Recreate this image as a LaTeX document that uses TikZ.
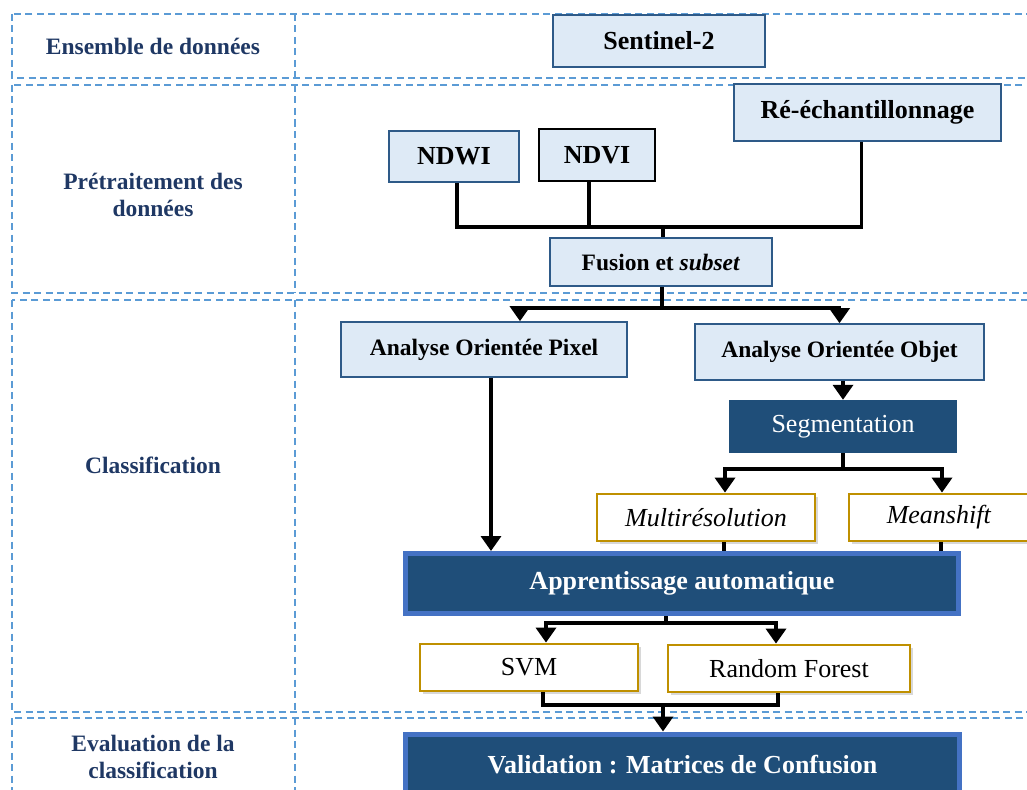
\documentclass[tikz,border=0pt]{standalone}
\usepackage{fontspec}
\setmainfont{Liberation Serif}
\usetikzlibrary{arrows.meta,shadows}
\definecolor{labelblue}{HTML}{1F3864}
\definecolor{boxfill}{HTML}{DEEAF6}
\definecolor{boxline}{HTML}{2E5A88}
\definecolor{darkfill}{HTML}{1F4E79}
\definecolor{frameblue}{HTML}{4472C4}
\definecolor{goldline}{HTML}{BF9000}
\definecolor{dashblue}{HTML}{5B9BD5}

\begin{document}
\begin{tikzpicture}[x=1pt,y=-1pt]
\tikzstyle{lane} = [draw=dashblue, line width=1.6pt, dash pattern=on 7pt off 4.5pt]
\tikzstyle{stage} = [text=labelblue, align=center, font=\fontsize{23.5}{27}\selectfont\bfseries]
\tikzstyle{box} = [rectangle, draw=boxline, line width=1.6pt, fill=boxfill, text centered, inner sep=0pt, font=\fontsize{26}{30}\selectfont\bfseries]
\tikzstyle{smallbox} = [box, font=\fontsize{23.5}{28}\selectfont\bfseries]
\tikzstyle{darkbox} = [rectangle, fill=darkfill, text=white, text centered, inner sep=0pt, font=\fontsize{26}{30}\selectfont]
\tikzstyle{framebox} = [darkbox, draw=frameblue, line width=5pt, font=\fontsize{26}{30}\selectfont\bfseries]
\tikzstyle{algo} = [rectangle, draw=goldline, line width=2.8pt, fill=white, text centered, inner sep=0pt, drop shadow={shadow xshift=3pt, shadow yshift=-3pt, fill=black!30}, font=\fontsize{26}{30}\selectfont]
\tikzstyle{line} = [line width=3.5pt]
\tikzstyle{arrow} = [line width=3.5pt, -{Triangle[width=20pt,length=15pt]}]
\clip (0,0) rectangle (1027,789);

    \draw[lane] (12,14) rectangle (1045,78) (295,14) -- (295,78);
    \draw[lane] (12,85) rectangle (1045,293) (295,85) -- (295,293);
    \draw[lane] (12,300) rectangle (1045,712) (295,300) -- (295,712);
    \draw[lane] (12,718) rectangle (1045,800) (295,718) -- (295,800);

    \path
        (153,46) node[stage] (stdata) {Ensemble de données}
        (153,195) node[stage] (stprep) {Prétraitement des\\données}
        (153,465) node[stage] (stclass) {Classification}
        (153,757) node[stage] (steval) {Evaluation de la\\classification};

    \path
        (659,41) node[box, minimum width=212, minimum height=52] (sentinel) {Sentinel-2}
        (454,156.5) node[box, minimum width=130, minimum height=51] (ndwi) {NDWI}
        (597,155) node[box, draw=black, minimum width=116, minimum height=52] (ndvi) {NDVI}
        (867.5,112.5) node[box, minimum width=267, minimum height=57] (reech) {Ré-échantillonnage}
        (661,262) node[smallbox, minimum width=222, minimum height=48] (fusion) {Fusion et \textit{subset}}
        (484,349.5) node[smallbox, minimum width=286, minimum height=55] (pixel) {Analyse Orientée Pixel}
        (839.5,352) node[smallbox, minimum width=289, minimum height=56] (objet) {Analyse Orientée Objet}
        (843,426.5) node[darkbox, minimum width=228, minimum height=53] (segm) {Segmentation}
        (706,517.5) node[algo, minimum width=218, minimum height=47] (multi) {\textit{Multirésolution}}
        (939,517.5) node[algo, minimum width=180, minimum height=47] (mean) {\textit{Meanshift}}
        (682,583.5) node[framebox, minimum width=553, minimum height=60] (appr) {Apprentissage automatique}
        (529,667.5) node[algo, minimum width=218, minimum height=47] (svm) {SVM}
        (789,668.5) node[algo, minimum width=242, minimum height=47] (rf) {Random Forest}
        (682.5,765) node[framebox, minimum width=554, minimum height=62] (valid) {Validation : Matrices de Confusion};

    \coordinate (bus1) at (663,227);
    \coordinate (bus2) at (662,308);
    \coordinate (bus3) at (843,469);
    \coordinate (bus4) at (666,623);
    \coordinate (bus5) at (663,705);

    \draw [line] ([xshift=3pt]ndwi.south) |- (bus1);
    \draw [line] ([xshift=-8pt]ndvi.south) |- (bus1);
    \draw [line] ([xshift=-6pt]reech.south) |- (bus1);
    \draw [line] (bus1) -- (bus1 |- fusion.north);
    \draw [line] (bus2 |- fusion.south) -- (bus2);
    \draw [arrow] (bus2) -| ([xshift=36pt]pixel.north);
    \draw [arrow] (bus2) -| (objet.north);
    \draw [arrow] (segm.north |- objet.south) -- (segm.north);
    \draw [line] (segm.south) -- (bus3);
    \draw [arrow] (bus3) -| ([xshift=19pt]multi.north);
    \draw [arrow] (bus3) -| ([xshift=3pt]mean.north);
    \draw [line] ([xshift=18pt]multi.south) -- ([xshift=18pt]multi.south |- appr.north);
    \draw [line] ([xshift=2pt]mean.south) -- ([xshift=2pt]mean.south |- appr.north);
    \draw [arrow] ([xshift=7pt]pixel.south) -- ([xshift=7pt]pixel.south |- appr.north);
    \draw [line] (bus4 |- appr.south) -- (bus4);
    \draw [arrow] (bus4) -| ([xshift=17pt]svm.north);
    \draw [arrow] (bus4) -| ([xshift=-13pt]rf.north);
    \draw [line] ([xshift=14pt]svm.south) |- (bus5);
    \draw [line] ([xshift=-11pt]rf.south) |- (bus5);
    \draw [arrow] (bus5) -- (bus5 |- valid.north);
\end{tikzpicture}
\end{document}
